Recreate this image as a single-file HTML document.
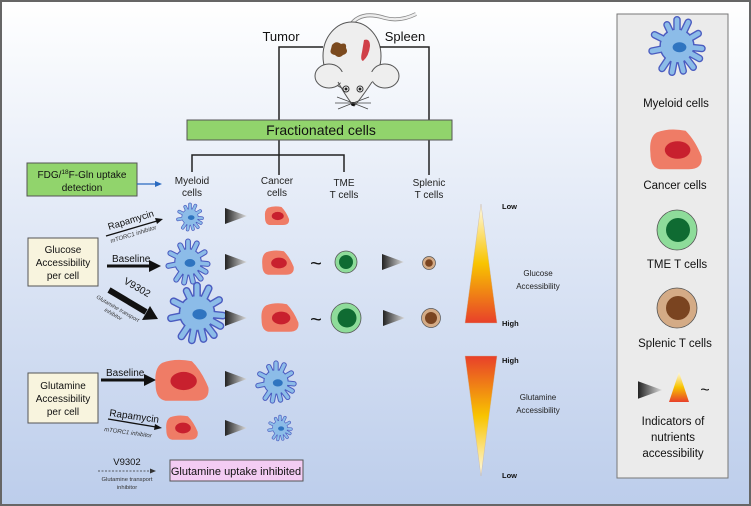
<!DOCTYPE html>
<html><head><meta charset="utf-8"><style>
html,body{margin:0;padding:0;}
svg{display:block;font-family:"Liberation Sans",Arial,sans-serif;}
</style></head><body>
<svg width="751" height="506" viewBox="0 0 751 506" xmlns="http://www.w3.org/2000/svg">
<defs>
<linearGradient id="bg" x1="0" y1="0" x2="0" y2="1">
<stop offset="0" stop-color="#ffffff"/><stop offset="1" stop-color="#bccdeb"/></linearGradient>
<linearGradient id="gt" x1="0" y1="0" x2="1" y2="0">
<stop offset="0" stop-color="#222"/><stop offset="1" stop-color="#ddd"/></linearGradient>
<linearGradient id="gu" x1="0" y1="0" x2="0" y2="1">
<stop offset="0" stop-color="#fffbe8"/><stop offset="0.5" stop-color="#f8c400"/><stop offset="1" stop-color="#e8402a"/></linearGradient>
<linearGradient id="gd" x1="0" y1="1" x2="0" y2="0">
<stop offset="0" stop-color="#fffbe8"/><stop offset="0.5" stop-color="#f8c400"/><stop offset="1" stop-color="#e8402a"/></linearGradient>
<g id="mye">
<g stroke="#4b5cc0" stroke-width="6" stroke-linecap="round">
<path d="M0 0L0 -21M0 0L9 -19M0 0L-8 -17M0 0L17 -10M0 0L-18 -9M0 0L20 2M0 0L-20 4M0 0L-12 18M0 0L-4 21M0 0L5 20M0 0L13 17M0 0L18 10"/>
</g>
<circle r="13.5" fill="#8cbce8" stroke="#4b5cc0" stroke-width="1.2"/>
<g stroke="#8cbce8" stroke-width="3.8" stroke-linecap="round">
<path d="M0 0L0 -21M0 0L9 -19M0 0L-8 -17M0 0L17 -10M0 0L-18 -9M0 0L20 2M0 0L-20 4M0 0L-12 18M0 0L-4 21M0 0L5 20M0 0L13 17M0 0L18 10"/>
</g>
<circle r="12.8" fill="#8cbce8"/>
<ellipse cx="2" cy="1" rx="5.5" ry="4" fill="#2f74c0"/>
</g>
<g id="can">
<path d="M-12 -11 Q-4 -14 6 -12 Q12 -6 16 4 Q17 12 8 12 L-10 12 Q-16 11 -16 2 Q-17 -8 -12 -11Z" fill="#ef7c66"/>
<ellipse cx="1" cy="0" rx="8" ry="5.5" fill="#c8202e"/>
</g>
<polygon id="tri" points="0,-8 22,0 0,8" fill="url(#gt)"/>
</defs>
<rect x="0" y="0" width="751" height="506" fill="url(#bg)"/>
<rect x="1" y="1" width="749" height="504" fill="none" stroke="#666" stroke-width="2"/>

<!-- mouse -->
<path d="M350 26 Q360 10 385 18 Q400 22 416 14" fill="none" stroke="#888" stroke-width="4"/>
<path d="M350 26 Q360 10 385 18 Q400 22 416 14" fill="none" stroke="#eee" stroke-width="2.4"/>
<ellipse cx="352" cy="56" rx="29" ry="34" fill="#eee" stroke="#555" stroke-width="1"/>
<ellipse cx="329" cy="76" rx="14" ry="12" fill="#eee" stroke="#555"/>
<ellipse cx="385" cy="76" rx="14" ry="12" fill="#eee" stroke="#555"/>
<path d="M336 72 Q350 106 354 106 Q358 106 378 72 Z" fill="#eee"/>
<path d="M338 82 Q348 100 354 106 Q360 100 372 82" fill="none" stroke="#555"/>
<circle cx="346" cy="89" r="3" fill="#fff" stroke="#333"/><circle cx="346" cy="89" r="1.5" fill="#222"/>
<circle cx="360" cy="89" r="3" fill="#fff" stroke="#333"/><circle cx="360" cy="89" r="1.5" fill="#222"/>
<circle cx="353" cy="104" r="2" fill="#111"/>
<path d="M353 103 L337 97 M353 103 L335 103 M353 103 L338 109 M353 103 L369 97 M353 103 L371 103 M353 103 L368 109" stroke="#444" stroke-width="0.7"/>
<path d="M332 45 Q336 40 341 44 Q347 42 346 48 Q349 53 343 55 Q339 59 335 55 Q329 54 331 49 Z" fill="#7b4a1e"/>
<path d="M364 40 Q370 38 370 46 Q369 56 363 61 Q360 60 362 52 Z" fill="#d04048"/>
<text x="281" y="41" font-size="13" fill="#111" text-anchor="middle">Tumor</text>
<text x="405" y="41" font-size="13" fill="#111" text-anchor="middle">Spleen</text>
<path d="M323 47 H279 V175 M380 47 H429 V175 M192 172 V155 H344 V172" fill="none" stroke="#222" stroke-width="1.5"/>
<rect x="187" y="120" width="265" height="20" fill="#91d46c" stroke="#555" stroke-width="1"/>
<text x="321" y="135" font-size="14" text-anchor="middle" fill="#111">Fractionated cells</text>

<g font-size="10" fill="#222" text-anchor="middle">
<text x="192" y="184">Myeloid</text><text x="192" y="196">cells</text>
<text x="277" y="184">Cancer</text><text x="277" y="196">cells</text>
<text x="344" y="186">TME</text><text x="344" y="198">T cells</text>
<text x="429" y="186">Splenic</text><text x="429" y="198">T cells</text>
</g>

<rect x="27" y="163" width="110" height="33" fill="#91d46c" stroke="#555"/>
<text x="82" y="178" font-size="10" text-anchor="middle" fill="#111">FDG/<tspan font-size="6.5" dy="-4">18</tspan><tspan dy="4">F-Gln uptake</tspan></text>
<text x="82" y="191" font-size="10" text-anchor="middle" fill="#111">detection</text>
<path d="M137 184 H157" stroke="#2a6ac0" stroke-width="1.3"/><polygon points="162,184 155,181 155,187" fill="#2a6ac0"/>

<rect x="28" y="238" width="70" height="48" fill="#f8f4de" stroke="#555"/>
<g font-size="10" text-anchor="middle" fill="#111"><text x="63" y="253">Glucose</text><text x="63" y="266">Accessibility</text><text x="63" y="279">per cell</text></g>
<rect x="28" y="373" width="70" height="50" fill="#f8f4de" stroke="#555"/>
<g font-size="10" text-anchor="middle" fill="#111"><text x="63" y="389">Glutamine</text><text x="63" y="402">Accessibility</text><text x="63" y="415">per cell</text></g>

<!-- glucose arrows -->
<path d="M106 236 L157 221" stroke="#111" stroke-width="1.3"/><polygon points="163,219 155,218 157,224" fill="#111"/>
<text transform="translate(109,230) rotate(-17)" font-size="9.5" fill="#111">Rapamycin</text>
<text transform="translate(111,243) rotate(-17)" font-size="6" fill="#333" font-style="italic">mTORC1 inhibitor</text>
<path d="M107 266 H150" stroke="#111" stroke-width="3"/><polygon points="161,266 149,260 149,272" fill="#111"/>
<text x="112" y="262" font-size="10" fill="#111">Baseline</text>
<path d="M109 290 L146 312" stroke="#111" stroke-width="6"/><polygon points="158,319 142,320 150,306" fill="#111"/>
<text transform="translate(123,283) rotate(30)" font-size="10" fill="#111">V9302</text>
<text transform="translate(96,298) rotate(30)" font-size="5.5" fill="#333" font-style="italic">Glutamine transport</text>
<text transform="translate(104,311) rotate(30)" font-size="5.5" fill="#333" font-style="italic">inhibitor</text>

<use href="#mye" transform="translate(190,217) scale(0.6)"/>
<use href="#mye" transform="translate(188,262) scale(0.98)"/>
<use href="#mye" transform="translate(197,313) scale(1.3)"/>
<use href="#tri" transform="translate(225,216)"/>
<use href="#tri" transform="translate(225,262)"/>
<use href="#tri" transform="translate(225,318)"/>
<use href="#can" transform="translate(277,216) scale(0.75)"/>
<use href="#can" transform="translate(278,263) scale(0.98)"/>
<use href="#can" transform="translate(280,318) scale(1.15)"/>
<text x="316" y="270" font-size="20" text-anchor="middle" fill="#111">~</text>
<text x="316" y="326" font-size="20" text-anchor="middle" fill="#111">~</text>
<circle cx="346" cy="262" r="11" fill="#8edc9a" stroke="#555" stroke-width="0.8"/><circle cx="346" cy="262" r="7" fill="#0f6b32"/>
<circle cx="346" cy="318" r="15" fill="#8edc9a" stroke="#555" stroke-width="0.8"/><circle cx="347" cy="318" r="9.5" fill="#0f6b32"/>
<use href="#tri" transform="translate(382,262)"/>
<use href="#tri" transform="translate(383,318)"/>
<circle cx="429" cy="263" r="6.5" fill="#d4ab86" stroke="#555" stroke-width="0.7"/><circle cx="429" cy="263" r="3.8" fill="#7a4420"/>
<circle cx="431" cy="318" r="9.5" fill="#d4ab86" stroke="#555" stroke-width="0.7"/><circle cx="431" cy="318" r="6" fill="#7a4420"/>

<!-- glutamine -->
<path d="M101 380 H145" stroke="#111" stroke-width="3"/><polygon points="156,380 144,374 144,386" fill="#111"/>
<text x="106" y="376" font-size="10" fill="#111">Baseline</text>
<use href="#can" transform="translate(182,381) scale(1.65)"/>
<use href="#tri" transform="translate(225,379)"/>
<use href="#mye" transform="translate(276,382) scale(0.9)"/>
<path d="M108 419 L156 427" stroke="#111" stroke-width="1.3"/><polygon points="162,428 155,424 154,430" fill="#111"/>
<text transform="translate(109,416) rotate(8)" font-size="10" fill="#111">Rapamycin</text>
<text transform="translate(104,431) rotate(8)" font-size="6" fill="#333" font-style="italic">mTORC1 inhibitor</text>
<use href="#can" transform="translate(182,428) scale(0.98)"/>
<use href="#tri" transform="translate(225,428)"/>
<use href="#mye" transform="translate(280,428) scale(0.55)"/>
<text x="127" y="465" font-size="9.5" text-anchor="middle" fill="#111">V9302</text>
<path d="M98 471 H151" stroke="#333" stroke-width="0.8" stroke-dasharray="2,1.5"/><polygon points="156,471 150,468.5 150,473.5" fill="#333"/>
<text x="127" y="481" font-size="5.8" text-anchor="middle" fill="#333">Glutamine transport</text>
<text x="127" y="489" font-size="5.8" text-anchor="middle" fill="#333">inhibitor</text>
<rect x="170" y="460" width="133" height="21" fill="#f3ccf3" stroke="#555"/>
<text x="236" y="475" font-size="11" text-anchor="middle" fill="#111">Glutamine uptake inhibited</text>

<!-- gradients -->
<polygon points="481,204 497,323 465,323" fill="url(#gu)" stroke="#c9b5a0" stroke-width="0.4"/>
<polygon points="465,356 497,356 481,476" fill="url(#gd)" stroke="#c9b5a0" stroke-width="0.4"/>
<g font-size="7.5" font-weight="bold" fill="#111">
<text x="502" y="209">Low</text><text x="502" y="326">High</text><text x="502" y="363">High</text><text x="502" y="478">Low</text></g>
<g font-size="8" text-anchor="middle" fill="#222">
<text x="538" y="276">Glucose</text><text x="538" y="289">Accessibility</text>
<text x="538" y="400">Glutamine</text><text x="538" y="413">Accessibility</text></g>

<!-- legend -->
<rect x="617" y="14" width="111" height="464" fill="#ebebeb" stroke="#777" stroke-width="1"/>
<use href="#mye" transform="translate(677,46) scale(1.25)"/>
<use href="#can" transform="translate(676,150) scale(1.6)"/>
<circle cx="677" cy="230" r="20" fill="#8edc9a" stroke="#555" stroke-width="0.8"/><circle cx="678" cy="230" r="12" fill="#0f6b32"/>
<circle cx="677" cy="308" r="20" fill="#d4ab86" stroke="#555" stroke-width="0.8"/><circle cx="678" cy="308" r="12" fill="#7a4420"/>
<use href="#tri" transform="translate(638,390) scale(1.1)"/>
<polygon points="679,372 689,402 669,402" fill="url(#gu)"/>
<text x="705" y="395" font-size="16" text-anchor="middle" fill="#111">~</text>
<g font-size="11.5" text-anchor="middle" fill="#111">
<text x="676" y="107">Myeloid cells</text>
<text x="675" y="189">Cancer cells</text>
<text x="677" y="268">TME T cells</text>
<text x="675" y="347">Splenic T cells</text>
<text x="673" y="425">Indicators of</text>
<text x="673" y="441">nutrients</text>
<text x="673" y="457">accessibility</text>
</g>
</svg>
</body></html>
